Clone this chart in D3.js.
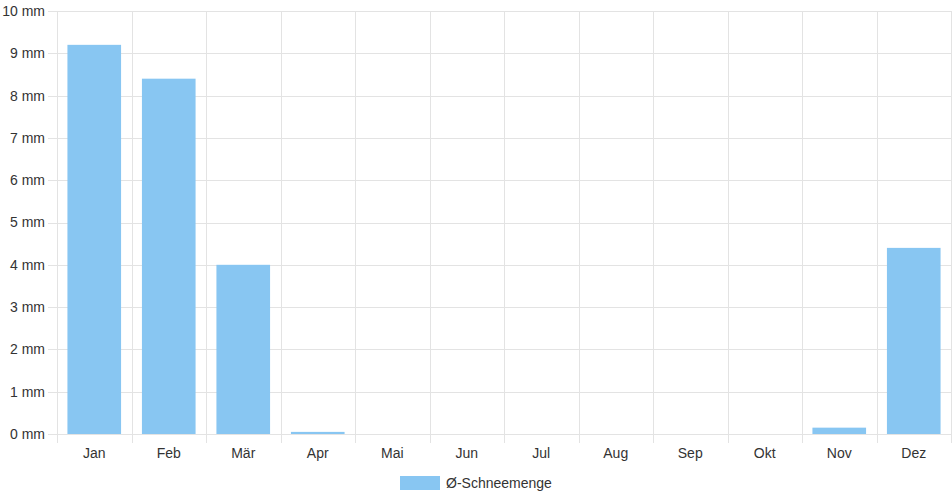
<!DOCTYPE html>
<html><head><meta charset="utf-8">
<script src="https://cdn.jsdelivr.net/npm/d3@7"></script>
<style>body{margin:0;background:#fff}svg{display:block;font-family:"Liberation Sans",Arial,Helvetica,sans-serif}</style>
</head><body><svg id="c" width="952" height="500"></svg>
<script>
const months = ["Jan","Feb","Mär","Apr","Mai","Jun","Jul","Aug","Sep","Okt","Nov","Dez"];
const snow = [9.2, 8.4, 4.0, 0.05, 0, 0, 0, 0, 0, 0, 0.15, 4.4];
const yTicks = [0,1,2,3,4,5,6,7,8,9,10];
const seriesName = "Ø-Schneemenge";

const svg = d3.select("#c");
const L = 57, R = 951, T = 11, B = 434;
const x = d3.scaleBand().domain(months).range([L, R]).paddingInner(0).paddingOuter(0);
const y = d3.scaleLinear().domain([0, 10]).range([B, T]);
const grid = "#e3e3e3", txt = "#333", barCol = "#88c6f2";

// horizontal grid
svg.append("g").selectAll("line").data(yTicks).join("line")
  .attr("x1", L - 9).attr("x2", R).attr("y1", d => Math.round(y(d)) + 0.5).attr("y2", d => Math.round(y(d)) + 0.5)
  .attr("stroke", grid).attr("stroke-width", 1);
// vertical grid
const bounds = months.map(m => x(m)).concat([R]);
svg.append("g").selectAll("line").data(bounds).join("line")
  .attr("x1", d => Math.round(d) + 0.5).attr("x2", d => Math.round(d) + 0.5)
  .attr("y1", T).attr("y2", B + 9)
  .attr("stroke", grid).attr("stroke-width", 1);

// y labels
svg.append("g").selectAll("text").data(yTicks).join("text")
  .attr("x", 45).attr("y", d => y(d)).attr("dy", "0.35em")
  .attr("text-anchor", "end").attr("font-size", 14).attr("fill", txt)
  .text(d => d + " mm");

// bars
const bw = x.bandwidth() * 0.72;
svg.append("g").selectAll("rect").data(months).join("rect")
  .attr("x", (m) => x(m) + (x.bandwidth() - bw) / 2)
  .attr("width", bw)
  .attr("y", (m, i) => y(snow[i]))
  .attr("height", (m, i) => B - y(snow[i]))
  .attr("fill", barCol);

// x labels
svg.append("g").selectAll("text").data(months).join("text")
  .attr("x", m => x(m) + x.bandwidth() / 2).attr("y", 453).attr("dy", "0.35em")
  .attr("text-anchor", "middle").attr("font-size", 14).attr("fill", txt)
  .text(m => m);

// legend
svg.append("rect").attr("x", 400).attr("y", 476).attr("width", 40).attr("height", 14).attr("fill", barCol);
svg.append("text").attr("x", 446).attr("y", 483).attr("dy", "0.35em").attr("font-size", 14).attr("fill", txt).text(seriesName);
</script></body></html>
